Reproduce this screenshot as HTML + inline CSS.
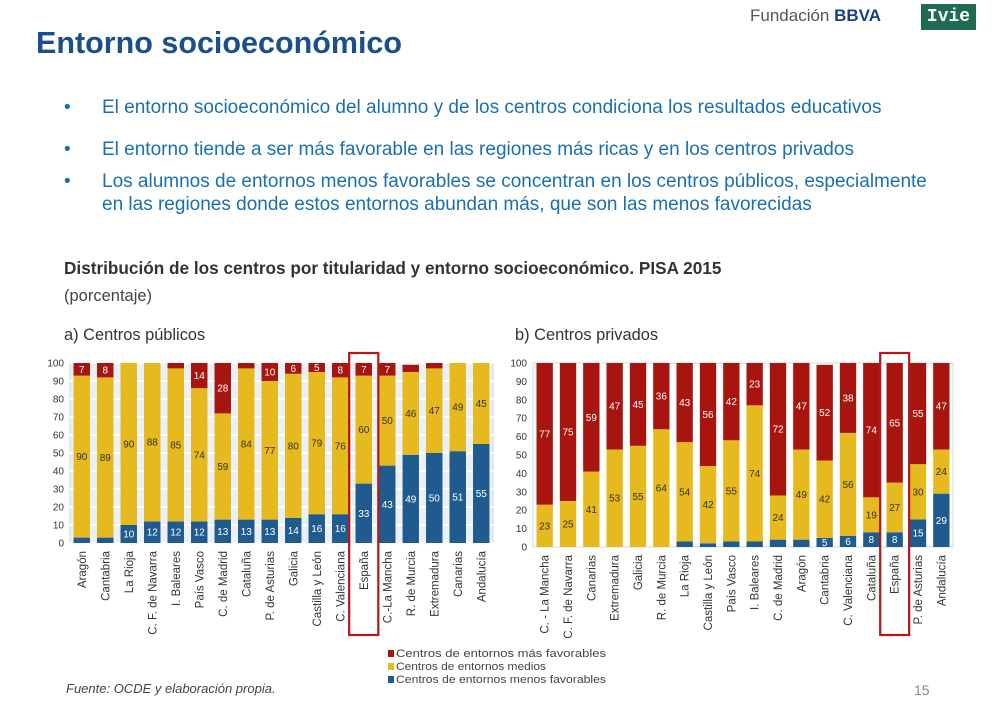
<!DOCTYPE html>
<html><head><meta charset="utf-8"><style>
body{margin:0;width:993px;height:711px;background:#fff;overflow:hidden;font-family:"Liberation Sans",sans-serif;position:relative}
.t{position:absolute;white-space:nowrap}
</style></head><body>
<div class="t" style="left:36px;top:26px;font-size:30.5px;font-weight:bold;color:#1b4f8c">Entorno socioeconómico</div>
<div class="t" style="left:750px;top:6px;font-size:17px;color:#555">Fundación <b style="color:#1b3f80">BBVA</b></div>
<div class="t" style="left:921px;top:4px;width:55px;height:26px;background:#1e6b50;color:#fff;font-family:'Liberation Mono',monospace;font-weight:bold;font-size:18px;text-align:center;line-height:26px">Ivie</div>
<div style="position:absolute;left:64px;top:96px;font-size:19px;color:#1c6fae;line-height:23px">
<div style="position:absolute;top:0;left:0">•</div><div class="t" style="left:38px;top:0">El entorno socioeconómico del alumno y de los centros condiciona los resultados educativos</div>
<div style="position:absolute;top:42px;left:0">•</div><div class="t" style="left:38px;top:42px">El entorno tiende a ser más favorable en las regiones más ricas y en los centros privados</div>
<div style="position:absolute;top:74px;left:0">•</div><div class="t" style="left:38px;top:74px">Los alumnos de entornos menos favorables se concentran en los centros públicos, especialmente<br>en las regiones donde estos entornos abundan más, que son las menos favorecidas</div>
</div>
<div class="t" style="left:64px;top:258px;font-size:17.2px;font-weight:bold;color:#333">Distribución de los centros por titularidad y entorno socioeconómico. PISA 2015</div>
<div class="t" style="left:64px;top:287px;font-size:16.5px;color:#444">(porcentaje)</div>
<div class="t" style="left:64px;top:326px;font-size:16.4px;color:#333">a) Centros públicos</div>
<div class="t" style="left:515px;top:326px;font-size:16.4px;color:#333">b) Centros privados</div>
<div class="t" style="left:66px;top:681px;font-size:13px;font-style:italic;color:#444">Fuente: OCDE y elaboración propia.</div>
<div class="t" style="left:914px;top:682px;font-size:14px;color:#888">15</div>
<svg id="svg" width="993" height="711" style="position:absolute;left:0;top:0"></svg>
<script>
const catsA=["Aragón","Cantabria","La Rioja","C. F. de Navarra","I. Baleares","País Vasco","C. de Madrid","Cataluña","P. de Asturias","Galicia","Castilla y León","C. Valenciana","España","C.-La Mancha","R. de Murcia","Extremadura","Canarias","Andalucía"];
const lowA=[3,3,10,12,12,12,13,13,13,14,16,16,33,43,49,50,51,55];
const midA=[90,89,90,88,85,74,59,84,77,80,79,76,60,50,46,47,49,45];
const highA=[7,8,0,0,3,14,28,3,10,6,5,8,7,7,4,3,0,0];
const catsB=["C. - La Mancha","C. F. de Navarra","Canarias","Extremadura","Galicia","R. de Murcia","La Rioja","Castilla y León","País Vasco","I. Baleares","C. de Madrid","Aragón","Cantabria","C. Valenciana","Cataluña","España","P. de Asturias","Andalucía"];
const lowB=[0,0,0,0,0,0,3,2,3,3,4,4,5,6,8,8,15,29];
const midB=[23,25,41,53,55,64,54,42,55,74,24,49,42,56,19,27,30,24];
const highB=[77,75,59,47,45,36,43,56,42,23,72,47,52,38,74,65,55,47];
const ticks=[0,10,20,30,40,50,60,70,80,90,100];
const legendItems=["Centros de entornos más favorables","Centros de entornos medios","Centros de entornos menos favorables"];
const COL={low:"#1f5b8f",mid:"#e6b91e",high:"#a8150f"};
const svg=document.getElementById('svg');const NS="http://www.w3.org/2000/svg";
function mk(t,a,p){const e=document.createElementNS(NS,t);for(const k in a)e.setAttribute(k,a[k]);(p||svg).appendChild(e);return e;}
function chart(id,x0,x1,yTop,yBot,cats,low,mid,high,hl){
 const g=mk('g',{});
 
 
 const y=v=>yBot-(v/100)*(yBot-yTop);
 const step=(x1-x0)/cats.length,bw=step*0.7;
 mk('rect',{x:x0,y:yTop,width:x1-x0,height:yBot-yTop,fill:id=='chart-a'?'#eaf0f6':'#fff',stroke:'#9bb',"stroke-width":0.5},g);
 ticks.forEach(t=>{
  if(id=='chart-a'){mk('line',{x1:x0,x2:x1,y1:y(t),y2:y(t),stroke:'#fff','stroke-width':2},g);}
  const tx=mk('text',{x:x0-6,y:y(t)+3.5,'font-size':10,'text-anchor':'end',fill:'#333'},g);tx.textContent=t;
  
  
 });
 cats.forEach((c,i)=>{
  const cx=x0+step*(i+0.5),bx=cx-bw/2;
  const segs=[[low[i],0,COL.low,'#fff'],[mid[i],low[i],COL.mid,'#333'],[high[i],low[i]+mid[i],COL.high,'#fff']];
  segs.forEach(([v,b,col,tc],k)=>{
   if(v<=0)return;
   const top=Math.min(100,b+v);
   const r=mk('rect',{x:bx,y:y(top),width:bw,height:y(b)-y(top),fill:col},g);
   
   
   if(v>=5){const t=mk('text',{x:cx,y:(y(top)+y(b))/2+3.5,'font-size':10,'text-anchor':'middle',fill:tc},g);t.textContent=v;}
  });
  const lb=mk('text',{transform:`translate(${cx+4},${yBot+8}) rotate(-90)`,'font-size':11.5,'text-anchor':'end',fill:'#333'},g);
  lb.textContent=c;
  
  
 });
 const cx=x0+step*(hl+0.5);
 const hb=mk('rect',{x:cx-step*0.62,y:353,width:step*1.24,height:282,fill:'none',stroke:'#b0181c','stroke-width':2.2},g);
 
 
}
chart('chart-a',70,493,363,543,catsA,lowA,midA,highA,12);
chart('chart-b',533,953,363,547,catsB,lowB,midB,highB,15);
const cols=[COL.high,COL.mid,COL.low];
legendItems.forEach((s,i)=>{
 const r=mk('rect',{x:388,y:650+i*13,width:6,height:7,fill:cols[i]});
 
 
 const t=mk('text',{x:396,y:657+i*13,'font-size':11.2,fill:'#444','textLength':i==1?150:210,'lengthAdjust':'spacingAndGlyphs'});t.textContent=s;
 
 
});
</script>
</body></html>
